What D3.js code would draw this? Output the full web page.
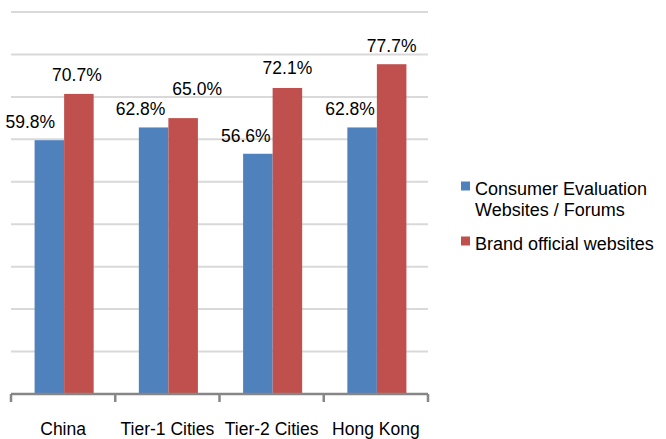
<!DOCTYPE html>
<html><head><meta charset="utf-8">
<script src="https://cdn.jsdelivr.net/npm/d3@7"></script>
<style>body{margin:0;background:#fff}svg{display:block}text{font-family:"Liberation Sans",Arial,sans-serif;fill:#000}</style>
</head><body><svg id="c" width="666" height="439"></svg>
<script>
const categories = ["China", "Tier-1 Cities", "Tier-2 Cities", "Hong Kong"];
const seriesNames = ["Consumer Evaluation Websites / Forums", "Brand official websites"];
const consumerValues = [59.8, 62.8, 56.6, 62.8];
const brandValues = [70.7, 65.0, 72.1, 77.7];
const yTicks = [0, 10, 20, 30, 40, 50, 60, 70, 80, 90];
const colors = ["#4F81BD", "#C0504D"];
// label nudges (layout only, as placed in the original)
const labelDx = [[-19, -2], [-13, 14], [-12, 0], [-12, 0]];
const labelDy = [[-12, -13], [-12, -23], [-12, -14], [-12, -12]];

const svg = d3.select("#c");
const mL = 11, mR = 428, mT = 12, mB = 394;
const x = d3.scaleBand().domain(categories).range([mL, mR]).paddingInner(0).paddingOuter(0);
const sub = d3.scaleBand().domain([0, 1]).range([0, x.bandwidth()]).paddingInner(0).paddingOuter(0.765);
const y = d3.scaleLinear().domain([0, 90]).range([mB, mT]);

// gridlines
svg.append("g").selectAll("line").data(yTicks.filter(d => d > 0)).join("line")
  .attr("x1", mL).attr("x2", mR).attr("y1", d => y(d)).attr("y2", d => y(d))
  .attr("stroke", "#d9d9d9").attr("stroke-width", 2);

const data = categories.map((c, i) => ({c, i, vals: [consumerValues[i], brandValues[i]]}));
const g = svg.append("g").selectAll("g").data(data).join("g")
  .attr("transform", d => `translate(${x(d.c)},0)`);
g.selectAll("rect").data(d => d.vals.map((v, s) => ({v, s}))).join("rect")
  .attr("x", d => sub(d.s) + 1).attr("width", sub.bandwidth())
  .attr("y", d => y(d.v)).attr("height", d => mB - y(d.v))
  .attr("fill", d => colors[d.s]);
g.selectAll("text").data(d => d.vals.map((v, s) => ({v, s, i: d.i}))).join("text")
  .attr("x", d => sub(d.s) + 1 + sub.bandwidth() / 2 + labelDx[d.i][d.s])
  .attr("y", d => y(d.v) + labelDy[d.i][d.s])
  .attr("text-anchor", "middle").attr("font-size", 17.5)
  .text(d => d.v.toFixed(1) + "%");

// axis
const ax = svg.append("g").attr("transform", `translate(0,${mB})`);
ax.append("line").attr("x1", mL).attr("x2", mR).attr("stroke", "#868686").attr("stroke-width", 2.5);
ax.selectAll("line.t").data(categories.map(c => x(c)).concat([mR])).join("line").attr("class", "t")
  .attr("x1", d => d).attr("x2", d => d).attr("y1", 0).attr("y2", 8)
  .attr("stroke", "#868686").attr("stroke-width", 2.5);
ax.selectAll("text.cat").data(categories).join("text").attr("class", "cat")
  .attr("x", d => x(d) + x.bandwidth() / 2).attr("y", 41)
  .attr("text-anchor", "middle").attr("font-size", 17.5).text(d => d);

// legend
const legendLines = [["Consumer Evaluation", "Websites / Forums"], ["Brand official websites"]];
const lg = svg.append("g");
const ly = [181.5, 236.5];
legendLines.forEach((lines, s) => {
  lg.append("rect").attr("x", 461).attr("y", ly[s]).attr("width", 9).attr("height", 9).attr("fill", colors[s]);
  lines.forEach((t, k) => lg.append("text").attr("x", 475).attr("y", ly[s] + 13 + k * 21)
    .attr("font-size", 18).text(t));
});
</script></body></html>
